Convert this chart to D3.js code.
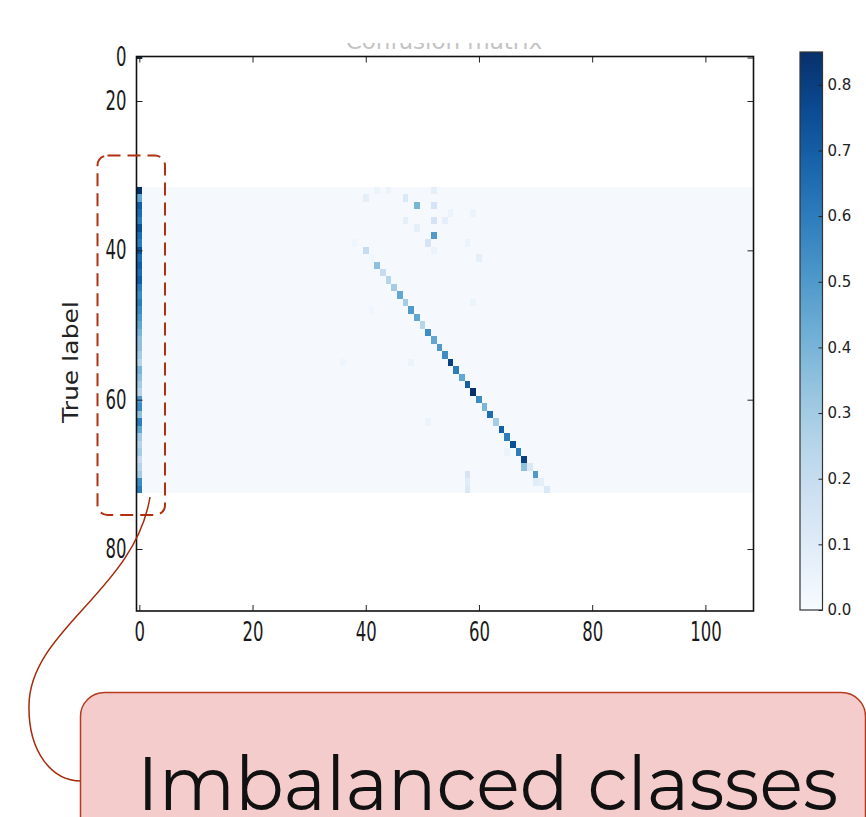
<!DOCTYPE html>
<html>
<head>
<meta charset="utf-8">
<script src="https://cdnjs.cloudflare.com/ajax/libs/d3/7.8.5/d3.min.js"></script>
<style>
  html, body { margin: 0; padding: 0; background: #fff; }
  svg { display: block; }
</style>
</head>
<body>
<div id="chart"></div>
<script>
// confusion matrix: 109 classes, only rows 32..72 have samples
var nClasses = 109;
var firstRow = 32, lastRow = 72;
var baseValue = 0.01; // near-zero cells in the populated rows

// column 0 (everything predicted as class 0), rows 32..72
var col0Values = [0.85, 0.45, 0.70, 0.65, 0.60, 0.75, 0.65, 0.60, 0.75, 0.65,
                  0.70, 0.65, 0.70, 0.60, 0.55, 0.60, 0.55, 0.50, 0.45, 0.40,
                  0.35, 0.35, 0.30, 0.25, 0.40, 0.35, 0.30, 0.25, 0.50, 0.55,
                  0.35, 0.60, 0.45, 0.30, 0.25, 0.30, 0.20, 0.25, 0.30, 0.55, 0.60];

// diagonal, rows 40..72
var diagRows = [40, 41, 42, 43, 44, 45, 46, 47, 48, 49, 50, 51, 52, 53, 54, 55, 56,
                57, 58, 59, 60, 61, 62, 63, 64, 65, 66, 67, 68, 69, 70, 71, 72];
var diagValues = [0.20, 0.03, 0.35, 0.20, 0.25, 0.30, 0.45, 0.30, 0.50, 0.45, 0.25,
                  0.55, 0.45, 0.50, 0.55, 0.80, 0.60, 0.45, 0.70, 0.85, 0.55, 0.40,
                  0.65, 0.30, 0.70, 0.60, 0.75, 0.60, 0.80, 0.12, 0.50, 0.08, 0.12];

// other visible cells [row, col, value]
var extraCells = [
  [0, 0, 0.85],
  [32, 42, 0.05], [32, 44, 0.05], [32, 52, 0.08],
  [33, 40, 0.08], [33, 47, 0.12],
  [34, 49, 0.40], [34, 52, 0.15],
  [35, 55, 0.05], [35, 59, 0.05],
  [36, 47, 0.08], [36, 52, 0.15], [36, 54, 0.08],
  [37, 49, 0.08],
  [38, 52, 0.50],
  [39, 38, 0.04], [39, 51, 0.15], [39, 58, 0.05],
  [40, 52, 0.05], [41, 60, 0.08],
  [47, 59, 0.05], [48, 41, 0.04],
  [55, 36, 0.04], [55, 48, 0.05],
  [63, 51, 0.05], [67, 65, 0.05],
  [69, 68, 0.35], [70, 58, 0.15], [71, 58, 0.10], [71, 70, 0.10], [72, 58, 0.12]
];

var xTicks = [0, 20, 40, 60, 80, 100];
var yTicks = [0, 20, 40, 60, 80];
var cbarTicks = [0.0, 0.1, 0.2, 0.3, 0.4, 0.5, 0.6, 0.7, 0.8];
var vmax = 0.85;

var W = 866, H = 817;
var plot = {left: 136.5, right: 753.5, top: 56.5, bottom: 611};
var red = "#b0300f";

var svg = d3.select("#chart").append("svg")
    .attr("width", W)
    .attr("height", H);

var x = d3.scaleLinear().domain([-0.5, nClasses - 0.5]).range([plot.left, plot.right]);
// the top of the original figure was cut, so the 0..20 span is squeezed
var y = d3.scaleLinear().domain([-0.5, 20, 88.3]).range([plot.top, 101, plot.bottom]);
var color = d3.scaleSequential(d3.interpolateBlues).domain([0, vmax]);

// title, only its lower sliver is left in the picture
svg.append("clipPath").attr("id", "titleclip")
  .append("rect").attr("x", 0).attr("y", 43).attr("width", W).attr("height", 13);
svg.append("text")
    .attr("clip-path", "url(#titleclip)")
    .attr("x", 444).attr("y", 49)
    .attr("text-anchor", "middle")
    .style("font", "23px 'DejaVu Sans'")
    .style("fill", "#c4c4c4")
    .text("Confusion matrix");

svg.append("clipPath").attr("id", "plotclip")
  .append("rect")
    .attr("x", plot.left).attr("y", plot.top)
    .attr("width", plot.right - plot.left).attr("height", plot.bottom - plot.top);

var heat = svg.append("g")
    .attr("clip-path", "url(#plotclip)")
    .attr("shape-rendering", "crispEdges");

var rows = d3.range(firstRow, lastRow + 1);
heat.selectAll(".band")
  .data(rows)
  .enter().append("rect")
    .attr("class", "band")
    .attr("x", x(-0.5))
    .attr("y", function(r) { return y(r - 0.5); })
    .attr("width", x(nClasses - 0.5) - x(-0.5))
    .attr("height", function(r) { return y(r + 0.5) - y(r - 0.5); })
    .attr("fill", color(baseValue));

var cells = [];
col0Values.forEach(function(v, i) { cells.push({r: firstRow + i, c: 0, v: v}); });
diagValues.forEach(function(v, i) { cells.push({r: diagRows[i], c: diagRows[i], v: v}); });
extraCells.forEach(function(d) { cells.push({r: d[0], c: d[1], v: d[2]}); });

heat.selectAll(".cell")
  .data(cells)
  .enter().append("rect")
    .attr("class", "cell")
    .attr("x", function(d) { return x(d.c - 0.5); })
    .attr("y", function(d) { return y(d.r - 0.5); })
    .attr("width", function(d) { return x(d.c + 0.5) - x(d.c - 0.5); })
    .attr("height", function(d) { return y(d.r + 0.5) - y(d.r - 0.5); })
    .attr("fill", function(d) { return color(d.v); });

// axes, matplotlib classic style: inward ticks on all four sides
function styleAxis(g) {
  g.select(".domain").remove();
  g.selectAll(".tick line").attr("stroke", "#222").attr("stroke-width", 1);
}
function styleLabels(g) {
  g.selectAll(".tick text")
    .style("font-family", "'DejaVu Sans', sans-serif")
    .style("font-size", "26px")
    .attr("fill", "#1a1a1a")
    .attr("textLength", function(d) { return String(d).length * 10.5; })
    .attr("lengthAdjust", "spacingAndGlyphs");
}

svg.append("g")
    .attr("transform", "translate(0," + plot.bottom + ")")
    .call(d3.axisBottom(x).tickValues(xTicks).tickSize(-6).tickPadding(12))
    .call(styleAxis).call(styleLabels);

svg.append("g")
    .attr("transform", "translate(" + plot.left + ",0)")
    .call(d3.axisLeft(y).tickValues(yTicks).tickSize(-6).tickPadding(10))
    .call(styleAxis).call(styleLabels);

svg.append("g")
    .attr("transform", "translate(0," + plot.top + ")")
    .call(d3.axisTop(x).tickValues(xTicks).tickSize(-6).tickFormat(""))
    .call(styleAxis);

svg.append("g")
    .attr("transform", "translate(" + plot.right + ",0)")
    .call(d3.axisRight(y).tickValues(yTicks).tickSize(-6).tickFormat(""))
    .call(styleAxis);

svg.append("rect")
    .attr("x", plot.left).attr("y", plot.top)
    .attr("width", plot.right - plot.left).attr("height", plot.bottom - plot.top)
    .attr("fill", "none")
    .attr("stroke", "#111")
    .attr("stroke-width", 1.6);

svg.append("text")
    .attr("transform", "translate(78,362) rotate(-90)")
    .attr("text-anchor", "middle")
    .attr("textLength", 122)
    .attr("lengthAdjust", "spacingAndGlyphs")
    .style("font", "21px 'DejaVu Sans'")
    .style("fill", "#222")
    .text("True label");

// colorbar
var cb = {x: 800, top: 52, bottom: 610, w: 22.5};
var cy = d3.scaleLinear().domain([0, vmax]).range([cb.bottom, cb.top]);

var grad = svg.append("defs").append("linearGradient")
    .attr("id", "cbgrad")
    .attr("x1", 0).attr("y1", 1).attr("x2", 0).attr("y2", 0);
grad.selectAll("stop")
  .data(d3.range(0, 1.0001, 0.1))
  .enter().append("stop")
    .attr("offset", function(t) { return t; })
    .attr("stop-color", function(t) { return color(t * vmax); });

svg.append("rect")
    .attr("x", cb.x).attr("y", cb.top)
    .attr("width", cb.w).attr("height", cb.bottom - cb.top)
    .attr("fill", "url(#cbgrad)")
    .attr("stroke", "#333")
    .attr("stroke-width", 1.2);

var cbAxis = svg.append("g")
    .attr("transform", "translate(" + (cb.x + cb.w) + ",0)")
    .call(d3.axisRight(cy).tickValues(cbarTicks).tickSize(-4).tickPadding(5).tickFormat(d3.format(".1f")))
    .call(styleAxis);
cbAxis.selectAll(".tick text")
    .style("font", "15px 'DejaVu Sans'")
    .attr("fill", "#222");

// annotation: dashed box around column 0, connector, callout
svg.append("rect")
    .attr("x", 97.5).attr("y", 155.5)
    .attr("width", 67.5).attr("height", 359.5)
    .attr("rx", 10)
    .attr("fill", "none")
    .attr("stroke", red)
    .attr("stroke-width", 2)
    .attr("stroke-dasharray", "13,7");

var p = d3.path();
p.moveTo(150, 497);
p.bezierCurveTo(135, 590, 30, 630, 29, 705);
p.bezierCurveTo(28, 752, 52, 781, 81, 781);
svg.append("path")
    .attr("d", p.toString())
    .attr("fill", "none")
    .attr("stroke", "#a52a0a")
    .attr("stroke-width", 1.5);

svg.append("rect")
    .attr("x", 80.5).attr("y", 692.5)
    .attr("width", 785).attr("height", 220)
    .attr("rx", 24)
    .attr("fill", "#f4cccc")
    .attr("stroke", "#b73a1e")
    .attr("stroke-width", 1.5);

svg.append("text")
    .attr("x", 137).attr("y", 810)
    .attr("textLength", 701)
    .attr("lengthAdjust", "spacingAndGlyphs")
    .style("font", "76px Montserrat, Inter, Lato, sans-serif")
    .style("fill", "#111")
    .text("Imbalanced classes");
</script>
</body>
</html>
